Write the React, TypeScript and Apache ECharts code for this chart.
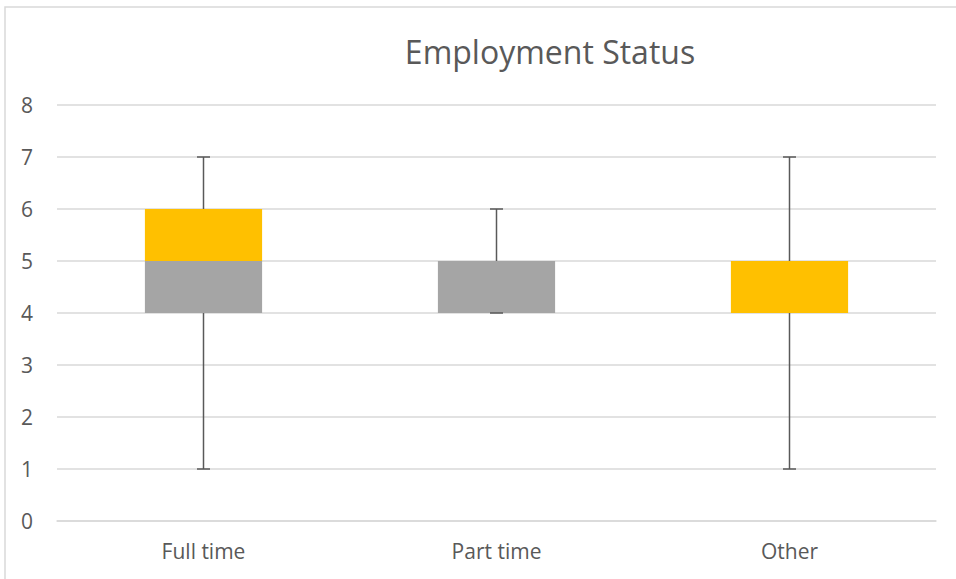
import React, { useEffect, useRef } from "react";
import * as echarts from "echarts";

// Five-number summary per employment group
const categories = ["Full time", "Part time", "Other"];
const minValues = [1, 4, 1];
const q1Values = [4, 4, 4];
const medianValues = [5, 5, 4];
const q3Values = [6, 5, 5];
const maxValues = [7, 6, 7];
const yTicks = [0, 8, 1]; // min, max, interval

const TEXT = "#595959";
const GRID = "#d9d9d9";
const FONT = "'Open Sans', 'Noto Sans', sans-serif";

export default function App() {
  const ref = useRef<HTMLDivElement>(null);

  useEffect(() => {
    if (!ref.current) return;
    const chart = echarts.init(ref.current, undefined, { renderer: "svg" });

    const lowerBox = q1Values.map((q1, i) => medianValues[i] - q1);
    const upperBox = medianValues.map((m, i) => q3Values[i] - m);
    const whiskers = categories.map((_, i) => [
      i,
      minValues[i],
      q1Values[i],
      q3Values[i],
      maxValues[i],
    ]);

    chart.setOption({
      animation: false,
      backgroundColor: "#ffffff",
      textStyle: { fontFamily: FONT },
      title: {
        text: "Employment Status",
        left: 545,
        textAlign: "center",
        top: 30,
        textStyle: {
          color: TEXT,
          fontFamily: FONT,
          fontSize: 32,
          fontWeight: "normal",
        },
      },
      graphic: [
        {
          type: "rect",
          silent: true,
          shape: { x: 5, y: 7, width: 1200, height: 1200 },
          style: { fill: "none", stroke: GRID, lineWidth: 1.5 },
        },
      ],
      grid: { left: 57, right: 20, top: 105, bottom: 58, containLabel: false },
      xAxis: {
        type: "category",
        data: categories,
        axisLine: { show: true, lineStyle: { color: GRID, width: 1.5 } },
        axisTick: { show: false },
        axisLabel: { color: TEXT, fontSize: 21, fontFamily: FONT, margin: 19 },
        splitLine: { show: false },
      },
      yAxis: {
        type: "value",
        min: yTicks[0],
        max: yTicks[1],
        interval: yTicks[2],
        axisLine: { show: false },
        axisTick: { show: false },
        axisLabel: { color: TEXT, fontSize: 21, fontFamily: FONT, margin: 24 },
        splitLine: { lineStyle: { color: GRID, width: 1.5 } },
      },
      series: [
        {
          type: "bar",
          stack: "box",
          data: q1Values,
          barWidth: "40%",
          itemStyle: { color: "transparent" },
          silent: true,
        },
        {
          type: "bar",
          stack: "box",
          data: lowerBox,
          barWidth: "40%",
          itemStyle: { color: "#a5a5a5" },
        },
        {
          type: "bar",
          stack: "box",
          data: upperBox,
          barWidth: "40%",
          itemStyle: { color: "#ffc000" },
        },
        {
          type: "custom",
          data: whiskers,
          z: 10,
          renderItem: (params: any, api: any) => {
            const x = api.value(0);
            const pMin = api.coord([x, api.value(1)]);
            const pQ1 = api.coord([x, api.value(2)]);
            const pQ3 = api.coord([x, api.value(3)]);
            const pMax = api.coord([x, api.value(4)]);
            const half = 6.5;
            const style = { stroke: "#595959", lineWidth: 1.5 };
            return {
              type: "group",
              children: [
                { type: "line", shape: { x1: pMax[0], y1: pMax[1], x2: pQ3[0], y2: pQ3[1] }, style },
                { type: "line", shape: { x1: pMax[0] - half, y1: pMax[1], x2: pMax[0] + half, y2: pMax[1] }, style },
                { type: "line", shape: { x1: pQ1[0], y1: pQ1[1], x2: pMin[0], y2: pMin[1] }, style },
                { type: "line", shape: { x1: pMin[0] - half, y1: pMin[1], x2: pMin[0] + half, y2: pMin[1] }, style },
              ],
            };
          },
        },
      ],
    });

    return () => chart.dispose();
  }, []);

  return (
    <div
      ref={ref}
      style={{ position: "absolute", left: 0, top: 0, width: 956, height: 579 }}
    />
  );
}
